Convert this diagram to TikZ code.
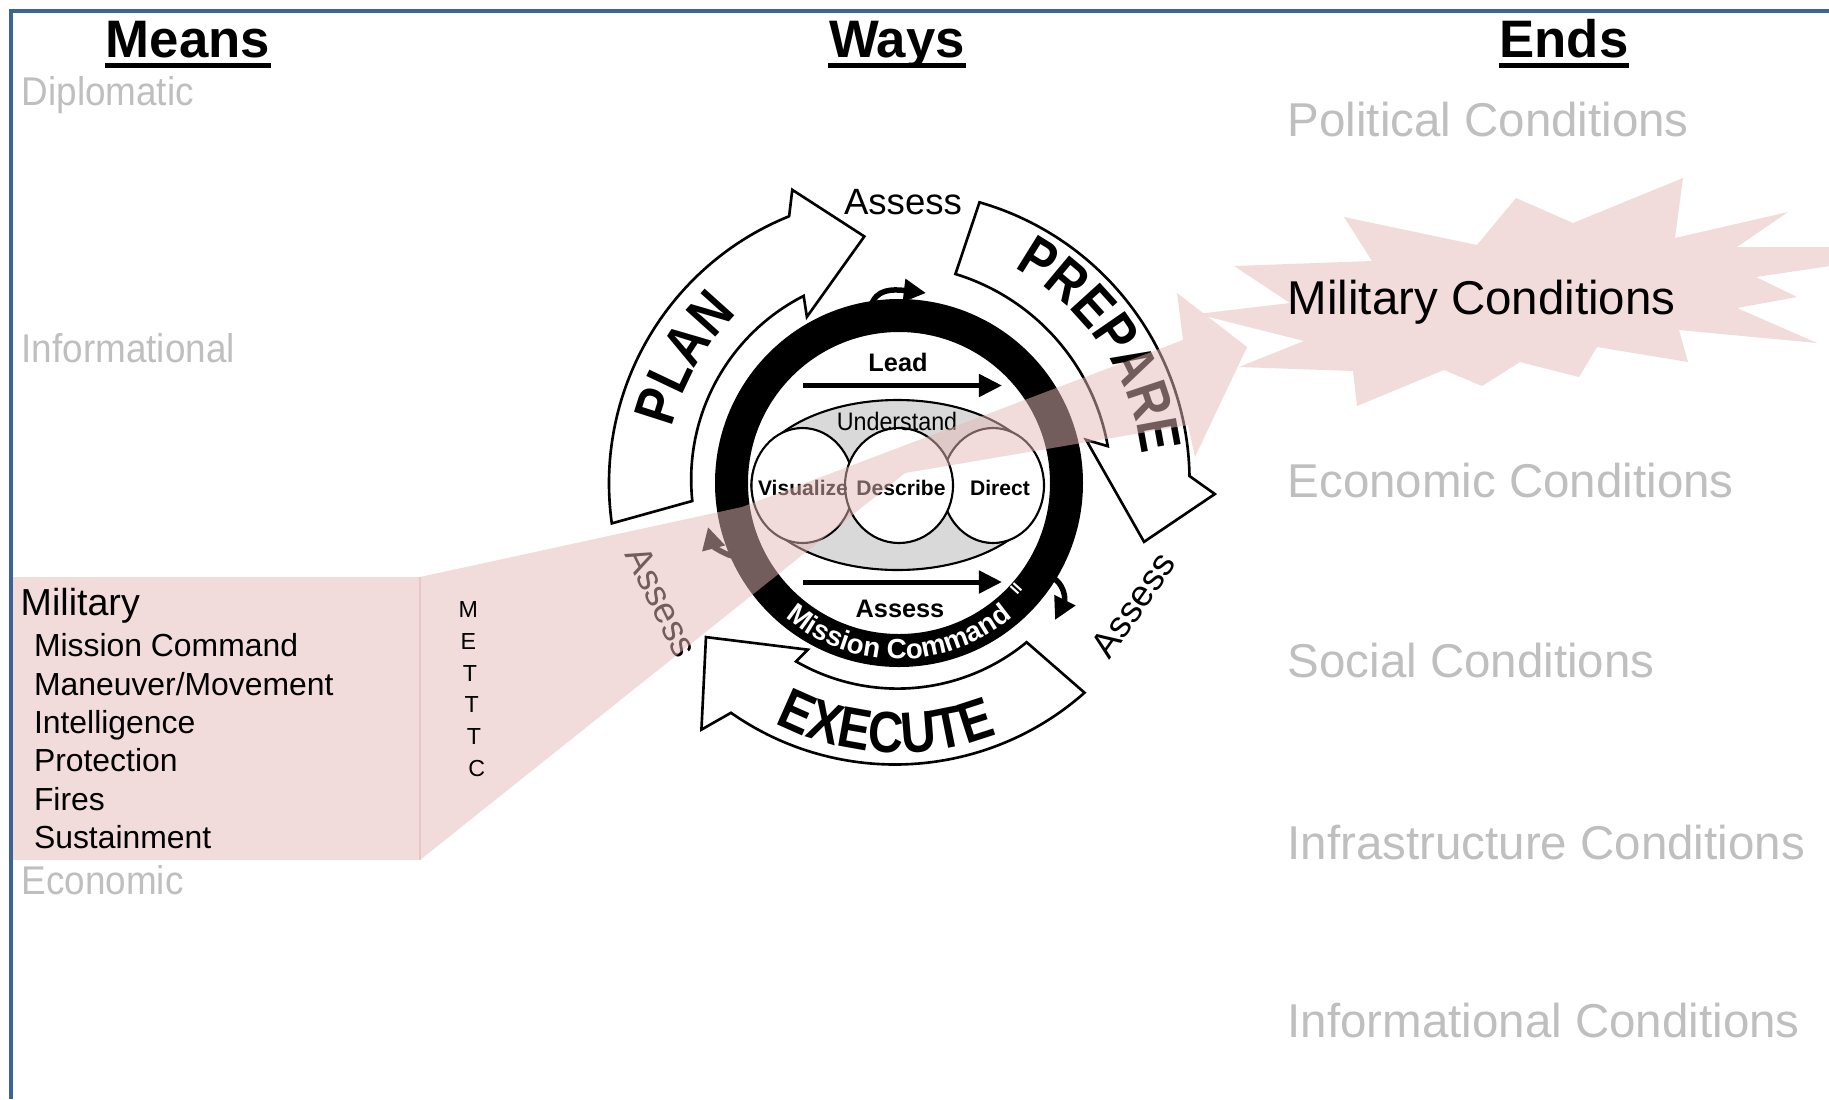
\documentclass[tikz,border=0pt]{standalone}
\usepackage{fontspec}
\setmainfont{Liberation Sans}
\newfontfamily\narrowfont[FakeStretch=0.92]{Liberation Sans}
\newfontfamily\cycnarrow[FakeStretch=0.84]{Liberation Sans}
\usetikzlibrary{arrows.meta,decorations.text}
\definecolor{framblue}{HTML}{3B6496}
\definecolor{pinkbase}{HTML}{E6B9B8}
\definecolor{pinklight}{HTML}{F2DCDB}
\definecolor{textgray}{HTML}{BFBFBF}
\definecolor{ellgray}{HTML}{D9D9D9}
\newcommand{\cycfont}{\cycnarrow\bfseries\fontsize{16.5}{16.5}\selectfont}
\newcommand{\mcfont}{\bfseries\fontsize{7.9}{8}\selectfont}
\tikzset{
  framestyle/.style={draw=framblue, line width=1.22pt},
  heading/.style={font=\bfseries\fontsize{15}{18}\selectfont, anchor=base, inner sep=0pt},
  uline/.style={line width=1.42pt},
  leftgray/.style={font=\narrowfont\fontsize{11.4}{13}\selectfont, text=textgray, anchor=base west, inner sep=0pt},
  endgray/.style={font=\fontsize{13.5}{16}\selectfont, text=textgray, anchor=base west, inner sep=0pt},
  listitem/.style={font=\fontsize{9.07}{11}\selectfont, anchor=base west, inner sep=0pt},
  mettc/.style={font=\fontsize{6.6}{8}\selectfont, inner sep=0pt},
  cycarrow/.style={draw=black, fill=white, line width=0.75pt, line join=miter},
  assesslbl/.style={font=\fontsize{10.4}{12}\selectfont, inner sep=0pt},
  innerlbl/.style={font=\bfseries\fontsize{7.2}{9}\selectfont, inner sep=0pt, anchor=base},
  innerarr/.style={line width=1.42pt, -{Triangle[length=6.6pt,width=6.3pt]}},
  ringarr/.style={line width=1.56pt, -{Triangle[length=6.3pt,width=6.3pt]}},
  bubble/.style={draw=black, fill=white, line width=0.6pt},
  beam/.style={fill=pinkbase, fill opacity=0.5},
  arctext/.style={decorate, decoration={text along path, text align=center, text={#1}}},
}
\begin{document}
\begin{tikzpicture}[x=0.01cm,y=-0.01cm]
\useasboundingbox (0,0) rectangle (1829,1099);
\fill[white] (0,0) rectangle (1829,1099);
\begin{scope}
\clip (0,0) rectangle (1829,1099);

% frame
\draw[framestyle] (11,1099) -- (11,11) -- (1829,11);

% headings
\node[heading] (means) at (188,57.3) {Means};
\node[heading] (ways) at (897,57.3) {Ways};
\node[heading] (ends) at (1564,57.3) {Ends};
\foreach \n in {means,ways,ends}
  \draw[uline] ([yshift=-2.35pt]\n.base west) -- ([yshift=-2.35pt]\n.base east);

% left column
\node[leftgray] (dipl) at (21,105) {Diplomatic};
\node[leftgray] (info) at (21,362.7) {Informational};
\fill[pinklight] (13,577) rectangle (420,860);
\node[anchor=base west, inner sep=0pt, font=\fontsize{10.7}{13}\selectfont] (mil) at (20,615) {Military};
\node[listitem] (l1) at (33.3,656.7) {Mission Command};
\node[listitem] (l2) at (33.3,695) {Maneuver/Movement};
\node[listitem] (l3) at (33.3,733.3) {Intelligence};
\node[listitem] (l4) at (33.3,771.7) {Protection};
\node[listitem] (l5) at (33.3,810) {Fires};
\node[listitem] (l6) at (33.3,848.3) {Sustainment};
\node[leftgray] (econ) at (21,894.3) {Economic};

% right column
\node[endgray] (pol) at (1287,136) {Political Conditions};
\node[endgray] (eco) at (1287,497) {Economic Conditions};
\node[endgray] (soc) at (1287,677.7) {Social Conditions};
\node[endgray] (inf) at (1287,859.6) {Infrastructure Conditions};
\node[endgray] (infc) at (1287,1037) {Informational Conditions};

% cycle
\begin{scope}[shift={(899,483)}]
  % PLAN
  \draw[cycarrow] (172:290) arc[start angle=172, end angle=248, radius=288]
    -- (250:312) -- (262:249) -- (241:190) -- (243:210)
    arc[start angle=243, end angle=174, radius=206] -- cycle;
  % PREPARE
  \draw[cycarrow] (286:292) arc[start angle=286, end angle=359, radius=290]
    -- (362:316) -- (373.5:252) -- (347:192) -- (350:212)
    arc[start angle=350, end angle=287, radius=220] -- cycle;
  % EXECUTE
  \draw[cycarrow] (48.5:280) arc[start angle=48.5, end angle=125, radius=286]
    -- (128.7:316) -- (141.4:247) -- (118.7:190) -- (120:206)
    arc[start angle=120, end angle=50.5, radius=203] -- cycle;
  \path[arctext={|\cycfont|PLAN}] (176:234) arc[start angle=176, end angle=244, radius=234];
  \path[arctext={|\cycfont|PREPARE}] (290:244) arc[start angle=290, end angle=361.5, radius=244];
  \path[arctext={|\cycfont|EXECUTE}] (127:270) arc[start angle=127, end angle=59, radius=270];
  % outer assess labels
  \node[assesslbl] (asTop) at (4,-281.4) {Assess};
  \node[assesslbl, rotate=55] (asRight) at (234.5,122) {Assess};
  \node[assesslbl, rotate=-64] (asLeft) at (-237.3,118.7) {Assess};
  % ring
  \fill[black, even odd rule] (0,0) circle[radius=184] (0,0) circle[radius=151];
  \path[arctext={|\mcfont\color{white}|Mission Command}] (134:176) arc[start angle=134, end angle=46, radius=176];
  \node[font=\bfseries\fontsize{4.5}{5}\selectfont, text=white, rotate=48, inner sep=0pt] (ii) at (117,106) {II};
  % understand ellipse and circles
  \draw[fill=ellgray, line width=0.6pt] (-1.5,2) ellipse[x radius=146, y radius=85];
  \draw[bubble] (-96.5,2.5) ellipse[x radius=51, y radius=57.5];
  \draw[bubble] (94,2.5) ellipse[x radius=51, y radius=57.5];
  \draw[bubble] (0,2.5) ellipse[x radius=54, y radius=57.5];
  \node[font=\narrowfont\fontsize{7.2}{9}\selectfont, inner sep=0pt, anchor=base] (und) at (-2,-53) {Understand};
  \node[font=\bfseries\fontsize{6}{7}\selectfont, inner sep=0pt, anchor=base] (vis) at (-96,12) {Visualize};
  \node[font=\bfseries\fontsize{6}{7}\selectfont, inner sep=0pt, anchor=base] (des) at (2,12) {Describe};
  \node[font=\bfseries\fontsize{6}{7}\selectfont, inner sep=0pt, anchor=base] (dir) at (101,12) {Direct};
  \node[innerlbl] (lead) at (-1,-111.3) {Lead};
  \coordinate (leadA) at (-96,-97.5);
  \coordinate (leadB) at (103,-97.5);
  \draw[innerarr] (leadA) -- (leadB);
  \coordinate (assA) at (-96,99);
  \coordinate (assB) at (103,99);
  \draw[innerarr] (assA) -- (assB);
  \node[innerlbl] (assIn) at (1,134) {Assess};
\end{scope}

% small curved arrows on the ring
\coordinate (ta0) at (871,306); \coordinate (ta3) at (926,293);
\draw[ringarr] (ta0) .. controls (876,289) and (892,289) .. (ta3);
\coordinate (ra0) at (1053,578); \coordinate (ra3) at (1055,620);
\draw[ringarr] (ra0) .. controls (1063,583) and (1066,598) .. (ra3);
\coordinate (la0) at (732,556); \coordinate (la3) at (708,527);
\draw[ringarr] (la0) .. controls (722,553) and (713,546) .. (la3);

% pink beam
\fill[beam] (420,577) -- (742,507) -- (1183,340) -- (1177,293) -- (1247,347)
  -- (1195,457) -- (1188,425) -- (905,473) -- (420,860) -- cycle;
\draw[draw=pinkbase, draw opacity=0.6, line width=0.3pt] (420,577) -- (420,860);

% METTTC
\node[mettc] (m1) at (468.3,610) {M};
\node[mettc] (m2) at (468.3,641.7) {E};
\node[mettc] (m3) at (470,673.3) {T};
\node[mettc] (m4) at (471.7,705) {T};
\node[mettc] (m5) at (474,736.7) {T};
\node[mettc] (m6) at (476.7,768.3) {C};

% starburst
\fill[pinklight] (1234,266) -- (1372,261) -- (1344,217) -- (1477,245) -- (1516,198)
  -- (1573,223) -- (1683,178) -- (1675,238) -- (1788,212) -- (1737,247)
  -- (1850,247) -- (1850,263) -- (1756,277) -- (1797,297) -- (1737,308)
  -- (1817,343) -- (1679,330) -- (1688,362) -- (1597,347) -- (1579,377)
  -- (1520,362) -- (1482,386) -- (1444,370) -- (1357,406) -- (1353,371)
  -- (1239,367) -- (1304,341) -- (1197,314) -- (1290,303) -- cycle;
\node[anchor=base west, inner sep=0pt, font=\fontsize{13.5}{16}\selectfont] (milc) at (1287,314) {Military Conditions};
\end{scope}
\end{tikzpicture}
\end{document}
